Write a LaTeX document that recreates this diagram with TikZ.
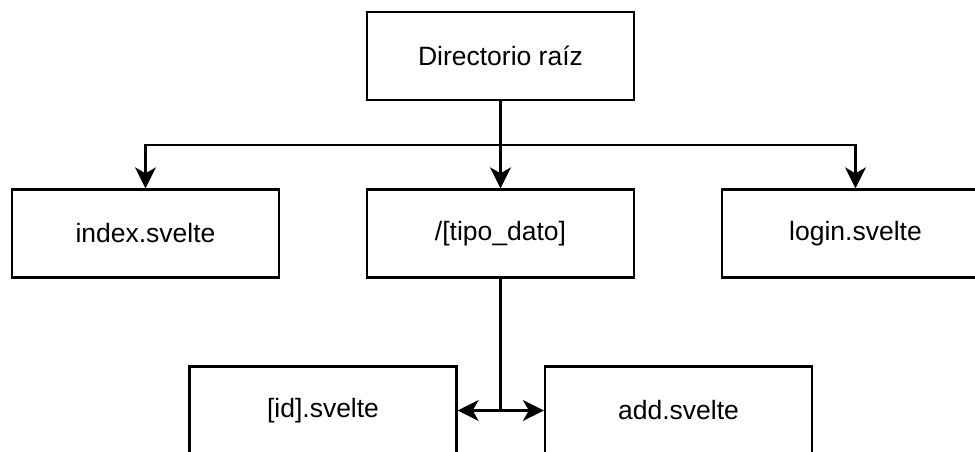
\documentclass[tikz,border=0pt]{standalone}
\usepackage{fontspec}
\setmainfont{Liberation Sans}
\usetikzlibrary{arrows.meta}
\tikzset{
  filebox/.style={draw=black, line width=2.3pt, fill=white, minimum width=267pt,
    minimum height=88pt, inner sep=0pt, font=\fontsize{26.5}{30}\selectfont},
  link/.style={draw=black, line width=2.3pt},
  arr/.style={link, -{Stealth[length=21pt, width=21pt, inset=6pt]}}
}
\begin{document}
\begin{tikzpicture}[x=1pt, y=-1pt]
  \useasboundingbox (0,0) rectangle (975,452);
  \clip (0,0) rectangle (975,452);
  \fill[white] (0,0) rectangle (975,452);

  % folder tree nodes
  \node[filebox] (root)  at (500.5,56)  {Directorio raíz};
  \node[filebox] (index) at (145.5,233.5) {index.svelte};
  \node[filebox] (tipo)  at (500.5,233.5) {/[tipo\_dato]};
  \node[filebox] (login) at (855.5,233.5) {login.svelte};
  \node[filebox] (id)    at (323,410.5) {[id].svelte};
  \node[filebox] (add)   at (678.5,410.5) {add.svelte};

  % root fans out to its three children
  \coordinate (split) at (root.south |- 0,145);
  \draw[link] (root.south) -- (split);
  \draw[arr] (split) -| (index.north);
  \draw[arr] (split) -- (tipo.north);
  \draw[arr] (split) -| (login.north);

  % dynamic route branches to its two pages
  \coordinate (join) at (tipo.south |- id.east);
  \draw[link] (tipo.south) -- (join);
  \draw[arr] (join) -- (id.east);
  \draw[arr] (join) -- (add.west);
\end{tikzpicture}
\end{document}
